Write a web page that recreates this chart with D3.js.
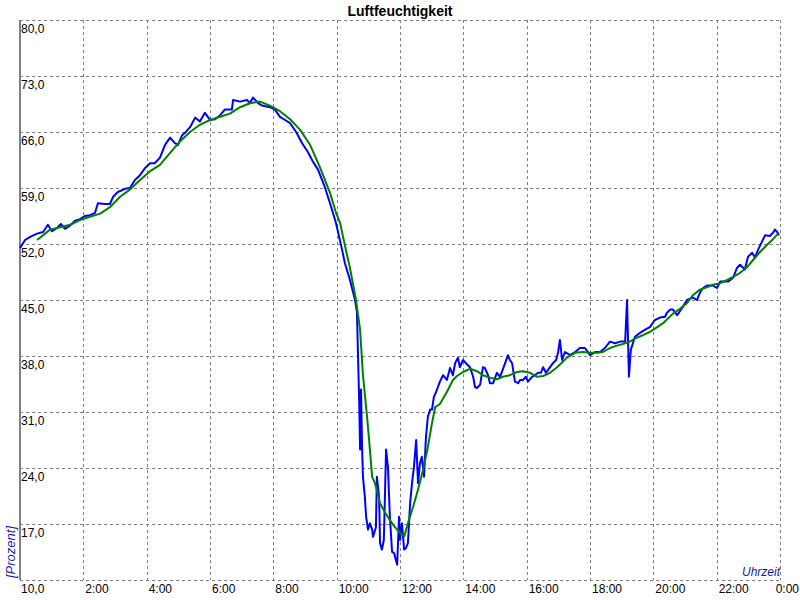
<!DOCTYPE html>
<html>
<head>
<meta charset="utf-8">
<script src="https://cdn.jsdelivr.net/npm/d3@7"></script>
<style>
html,body{margin:0;padding:0;background:#fff;}
svg{display:block;}
text{font-family:"Liberation Sans",Arial,sans-serif;}
</style>
</head>
<body>
<svg id="chart" width="800" height="600"></svg>
<script>
// ---- data ----
const title = "Luftfeuchtigkeit";
const yLabel = "[Prozent]";
const xLabel = "Uhrzeit";
const yTicks = [10, 17, 24, 31, 38, 45, 52, 59, 66, 73, 80];
const xTicks = [2, 4, 6, 8, 10, 12, 14, 16, 18, 20, 22, 24];
const xTickLabels = ["2:00","4:00","6:00","8:00","10:00","12:00","14:00","16:00","18:00","20:00","22:00","0:00"];

// measured humidity (hours, %)
const measTime = [0.00,0.16,0.32,0.54,0.73,0.88,1.01,1.17,1.29,1.42,1.58,1.74,1.89,2.05,2.21,2.37,2.46,2.68,2.84,2.94,3.09,3.32,3.47,3.63,3.79,3.95,4.11,4.26,4.42,4.58,4.74,4.89,4.99,5.12,5.21,5.37,5.53,5.68,5.84,6.00,6.16,6.32,6.47,6.69,6.73,6.95,7.17,7.26,7.36,7.52,7.64,7.89,8.05,8.21,8.37,8.53,8.72,8.91,9.09,9.25,9.41,9.60,9.79,9.98,10.17,10.26,10.42,10.58,10.64,10.67,10.71,10.74,10.77,10.80,10.83,10.89,10.93,10.99,11.05,11.12,11.15,11.24,11.27,11.34,11.37,11.43,11.49,11.56,11.62,11.68,11.75,11.81,11.87,11.91,11.97,12.00,12.06,12.13,12.19,12.25,12.32,12.38,12.44,12.51,12.57,12.63,12.69,12.76,12.82,12.88,12.95,13.01,13.07,13.14,13.26,13.36,13.48,13.58,13.67,13.74,13.83,13.89,13.99,14.08,14.21,14.31,14.37,14.43,14.53,14.62,14.68,14.78,14.84,14.94,15.06,15.16,15.32,15.41,15.47,15.54,15.63,15.73,15.79,15.88,15.98,16.04,16.17,16.26,16.36,16.45,16.52,16.61,16.74,16.83,16.93,16.99,17.05,17.12,17.21,17.37,17.53,17.68,17.84,18.00,18.16,18.32,18.47,18.63,18.79,18.95,19.11,19.17,19.23,19.29,19.42,19.58,19.74,19.89,20.05,20.21,20.37,20.43,20.53,20.62,20.75,20.91,21.06,21.25,21.38,21.47,21.57,21.69,21.88,22.01,22.11,22.36,22.52,22.64,22.74,22.89,22.99,23.12,23.21,23.31,23.43,23.53,23.68,23.78,23.84,23.91,23.97];
const measValue = [51.5,52.5,52.9,53.3,53.5,54.4,53.6,54.0,54.5,53.9,54.3,54.9,55.1,55.5,55.6,55.9,57.1,57.0,57.0,57.9,58.5,58.9,59.0,60.0,60.6,61.5,62.1,62.1,62.8,64.4,65.3,64.6,64.4,65.6,65.9,66.6,67.8,67.3,68.4,67.5,67.6,68.1,68.8,68.8,70.0,69.8,70.0,69.6,70.3,69.6,69.3,69.1,68.8,67.9,67.5,67.1,66.0,64.6,63.5,62.3,61.3,59.4,57.1,54.6,51.3,49.6,47.5,45.0,43.5,38.8,32.5,26.3,33.8,26.9,22.9,20.4,17.9,16.3,17.1,16.3,15.4,16.6,22.9,20.4,14.6,13.8,15.0,26.3,24.1,17.9,13.5,13.4,12.5,11.9,17.9,15.0,17.1,13.8,14.0,14.6,19.6,22.1,24.1,27.5,22.1,24.6,25.4,22.9,27.9,30.4,31.3,31.3,32.9,33.5,34.8,35.6,35.0,36.5,35.6,37.1,37.8,36.6,37.5,37.1,36.6,35.4,34.1,34.0,34.4,36.6,36.5,35.6,34.6,34.6,35.9,35.4,37.1,38.1,37.5,37.1,34.8,34.6,35.0,35.0,35.4,34.8,35.4,35.6,35.9,35.9,36.6,35.9,36.6,37.1,37.5,38.4,40.0,37.5,38.5,38.1,38.5,39.0,39.0,38.1,38.5,38.5,39.0,39.8,39.6,39.8,39.8,45.0,35.4,38.8,40.4,40.9,41.3,41.6,42.5,42.8,42.9,43.4,43.8,43.8,43.1,44.0,45.0,45.3,45.0,45.9,46.5,46.8,46.8,46.5,47.3,47.3,47.8,49.0,49.4,48.8,50.4,50.9,50.3,51.3,52.3,53.1,53.0,53.4,53.8,53.5,53.1];

// smoothed humidity (hours, %)
const smoothTime = [0.54,0.95,1.26,1.58,1.89,2.21,2.53,2.84,3.16,3.47,3.79,4.11,4.42,4.74,5.05,5.37,5.68,6.00,6.32,6.63,6.95,7.26,7.58,7.89,8.21,8.53,8.84,9.16,9.47,9.79,9.98,10.11,10.29,10.42,10.61,10.74,10.83,10.96,11.05,11.12,11.21,11.37,11.53,11.68,11.84,12.00,12.13,12.25,12.41,12.57,12.73,12.88,13.01,13.11,13.26,13.48,13.67,13.80,13.99,14.21,14.43,14.62,14.84,15.06,15.25,15.47,15.70,15.88,16.11,16.33,16.52,16.74,16.96,17.15,17.27,17.53,17.78,18.00,18.22,18.41,18.63,18.85,19.04,19.26,19.48,19.67,19.89,20.12,20.31,20.62,20.84,21.06,21.25,21.47,21.69,21.88,22.11,22.33,22.52,22.74,22.96,23.15,23.37,23.59,23.78,23.94];
const smoothValue = [52.5,53.8,54.1,54.4,55.0,55.4,55.8,56.6,57.9,58.8,60.0,61.1,61.9,63.4,64.8,66.0,66.9,67.5,67.9,68.3,69.1,69.6,69.8,69.3,68.6,67.6,66.3,64.4,61.6,58.4,55.9,54.6,51.3,49.0,45.0,41.3,35.6,30.4,26.3,22.9,22.1,19.6,18.4,17.5,16.6,15.9,15.4,17.1,19.1,21.3,23.8,26.6,29.6,31.6,32.0,33.5,35.0,35.5,36.0,36.4,36.1,35.6,35.3,35.1,35.4,35.6,36.0,36.1,35.9,35.4,35.5,35.9,36.6,37.3,37.8,38.4,38.5,38.4,38.4,38.5,39.0,39.3,39.5,39.8,40.3,40.6,41.0,41.6,42.1,43.3,43.9,44.6,45.6,46.3,46.6,46.9,47.1,47.5,47.9,48.4,49.1,50.0,51.0,51.9,52.6,53.3];

// ---- drawing ----
const svg = d3.select("#chart");
const W = 800;
const mLeft = 20, mRight = 780, mTop = 20, mBottom = 580;
const x = d3.scaleLinear().domain([0, 24]).range([mLeft, mRight]);
const y = d3.scaleLinear().domain([10, 80]).range([mBottom, mTop]);

svg.append("rect").attr("width", 800).attr("height", 600).attr("fill", "#fff");

// grid
const grid = svg.append("g").attr("stroke", "#808080").attr("stroke-width", 1)
  .attr("stroke-dasharray", "3,3").attr("shape-rendering", "crispEdges");
grid.selectAll("line.h").data(yTicks).join("line").attr("class", "h")
  .attr("x1", mLeft).attr("x2", mRight)
  .attr("y1", d => Math.round(y(d)) + 0.5).attr("y2", d => Math.round(y(d)) + 0.5);
grid.selectAll("line.v").data(xTicks).join("line").attr("class", "v")
  .attr("y1", mTop).attr("y2", mBottom)
  .attr("x1", d => Math.round(x(d)) + 0.5).attr("x2", d => Math.round(x(d)) + 0.5);

// y axis line
svg.append("line").attr("x1", mLeft).attr("x2", mLeft).attr("y1", mTop).attr("y2", mBottom)
  .attr("stroke", "#808080").attr("stroke-width", 2.5).attr("shape-rendering", "crispEdges");

// y tick labels
svg.append("g").selectAll("text").data(yTicks).join("text")
  .attr("x", mLeft + 1).attr("y", d => y(d) + 13)
  .attr("font-size", 12).attr("fill", "#000")
  .text(d => d.toFixed(1).replace(".", ","));

// x tick labels (left-aligned just right of gridline, kept inside the page)
svg.append("g").selectAll("text").data(xTicks).join("text")
  .attr("y", mBottom + 13)
  .attr("text-anchor", "start").attr("font-size", 12).attr("fill", "#000")
  .text((d, i) => xTickLabels[i])
  .attr("x", function(d) {
    const w = this.getComputedTextLength();
    return Math.min(x(d) + 2, W - 1 - w);
  });

// lines
const meas = measTime.map((t, i) => [t, measValue[i]]);
const smooth = smoothTime.map((t, i) => [t, smoothValue[i]]);
const line = d3.line().defined(d => d[1] != null).x(d => x(d[0])).y(d => y(d[1]));

svg.append("path").datum(meas).attr("d", line)
  .attr("fill", "none").attr("stroke", "#0000ff").attr("stroke-width", 2)
  .attr("stroke-linejoin", "round");
svg.append("path").datum(smooth).attr("d", line)
  .attr("fill", "none").attr("stroke", "#008000").attr("stroke-width", 2)
  .attr("stroke-linejoin", "round");

// title
svg.append("text").attr("x", 400).attr("y", 16).attr("text-anchor", "middle")
  .attr("font-size", 14).attr("font-weight", "bold").attr("fill", "#000").text(title);

// axis titles
svg.append("text").attr("transform", "translate(15,578) rotate(-90)")
  .attr("font-size", 13).attr("font-style", "italic").attr("fill", "#1a1aa0").text(yLabel);
svg.append("text").attr("x", 780).attr("y", 576).attr("text-anchor", "end")
  .attr("font-size", 12).attr("font-style", "italic").attr("fill", "#1a1aa0").text(xLabel);
</script>
</body>
</html>
